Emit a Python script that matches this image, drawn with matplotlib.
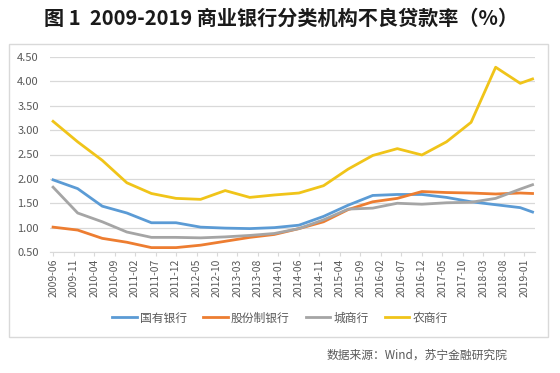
import matplotlib
matplotlib.use("Agg")
import matplotlib.pyplot as plt
from matplotlib.patches import Rectangle

plt.rcParams['font.family'] = ['Noto Sans CJK SC', 'DejaVu Sans']

dates = ["2009-06", "2009-12", "2010-06", "2010-12", "2011-06", "2011-12",
         "2012-06", "2012-12", "2013-06", "2013-12", "2014-06", "2014-12",
         "2015-06", "2015-12", "2016-06", "2016-12", "2017-06", "2017-12",
         "2018-06", "2018-12", "2019-03"]
state_owned = [1.98, 1.80, 1.44, 1.30, 1.10, 1.10, 1.01, 0.99, 0.98, 1.00, 1.05,
               1.23, 1.46, 1.66, 1.68, 1.68, 1.62, 1.53, 1.47, 1.41, 1.32]
joint_stock = [1.01, 0.95, 0.78, 0.70, 0.59, 0.59, 0.64, 0.72, 0.80, 0.86, 0.98,
               1.12, 1.37, 1.53, 1.60, 1.74, 1.72, 1.71, 1.69, 1.71, 1.70]
city = [1.83, 1.30, 1.12, 0.91, 0.80, 0.80, 0.79, 0.81, 0.84, 0.88, 0.98,
        1.16, 1.38, 1.40, 1.50, 1.48, 1.51, 1.52, 1.60, 1.79, 1.88]
rural = [3.18, 2.76, 2.38, 1.92, 1.70, 1.60, 1.58, 1.76, 1.62, 1.67, 1.71,
         1.86, 2.20, 2.48, 2.62, 2.49, 2.76, 3.16, 4.29, 3.96, 4.05]
series_names = ["国有银行", "股份制银行", "城商行", "农商行"]
tick_labels = ["2009-06", "2009-11", "2010-04", "2010-09", "2011-02", "2011-07",
               "2011-12", "2012-05", "2012-10", "2013-03", "2013-08", "2014-01",
               "2014-06", "2014-11", "2015-04", "2015-09", "2016-02", "2016-07",
               "2016-12", "2017-05", "2017-10", "2018-03", "2018-08", "2019-01"]
y_ticks = [0.5, 1.0, 1.5, 2.0, 2.5, 3.0, 3.5, 4.0, 4.5]


def month_index(s):
    y, m = s.split("-")
    return (int(y) - 2009) * 12 + int(m) - 6


x = [month_index(d) for d in dates]
xt = [month_index(d) for d in tick_labels]

colors = ['#5B9BD5', '#ED7D31', '#A5A5A5', '#F0C419']

fig = plt.figure(figsize=(5.6, 3.73), dpi=100)
fig.patch.set_facecolor('white')

# outer chart frame
fig.patches.append(Rectangle((9 / 560, 1 - 337 / 373), (548 - 9) / 560, (337 - 44) / 373,
                             transform=fig.transFigure, facecolor='none',
                             edgecolor='#D9D9D9', lw=1.0))

ax = fig.add_axes([50 / 560, 1 - 252 / 373, 485 / 560, (252 - 57) / 373])
for vals, name, c in zip([state_owned, joint_stock, city, rural], series_names, colors):
    ax.plot(x, vals, color=c, lw=2.0, label=name, solid_joinstyle='round')

ax.set_xlim(-0.75, 117.6)
ax.set_ylim(0.5, 4.5)
ax.set_yticks(y_ticks)
ax.set_yticklabels([f"{v:.2f}" for v in y_ticks], fontsize=8, color='#595959')
ax.set_xticks(xt)
ax.set_xticklabels(tick_labels, rotation=90, fontsize=7.5, color='#595959')
ax.grid(axis='y', color='#D9D9D9', lw=0.9)
ax.set_axisbelow(True)
for s in ['top', 'right', 'left']:
    ax.spines[s].set_visible(False)
ax.spines['bottom'].set_color('#D9D9D9')
ax.tick_params(axis='y', length=0, pad=8)
ax.tick_params(axis='x', length=3, color='#D9D9D9', pad=2)

fig.legend(loc='center', bbox_to_anchor=(280 / 560, 1 - 318 / 373), ncol=4,
           frameon=False, fontsize=8.5, handlelength=2.1, handletextpad=0.25,
           columnspacing=1.35, labelcolor='#595959')

fig.text(281 / 560, 1 - 18 / 373, "图 1  2009-2019 商业银行分类机构不良贷款率（%）",
         ha='center', va='center', fontsize=14.5, fontweight='bold', color='#1a1a1a')
fig.text(507 / 560, 1 - 355 / 373, "数据来源：Wind，苏宁金融研究院",
         ha='right', va='center', fontsize=8.5, style='italic', color='#595959')

fig.savefig("out.png", dpi=100, facecolor='white')
